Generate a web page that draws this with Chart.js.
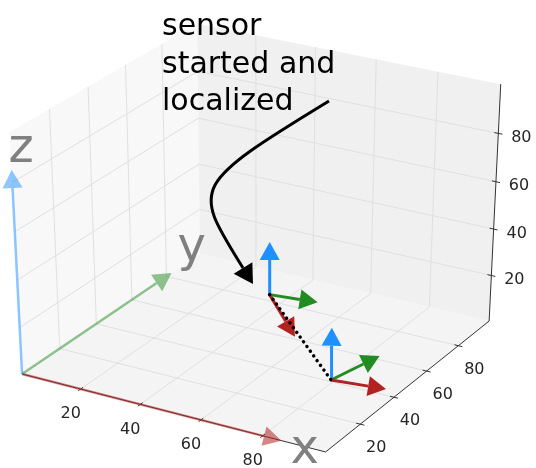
<!DOCTYPE html>
<html>
<head>
<meta charset="utf-8">
<script src="https://cdn.jsdelivr.net/npm/chart.js@4.4.1/dist/chart.umd.min.js"></script>
<style>
  html, body { margin: 0; padding: 0; background: #fff; }
  #wrap { width: 536px; height: 468px; }
</style>
</head>
<body>
<div id="wrap"><canvas id="chart" width="536" height="468"></canvas></div>
<script>
// axis limits and ticks of the 3d box
const xLim = [0, 100];
const yLim = [0, 100];
const zLim = [0, 100];
const xTicks = [20, 40, 60, 80];
const yTicks = [20, 40, 60, 80];
const zTicks = [20, 40, 60, 80];
const gridSteps = [20, 40, 60, 80];

// world frame arrows from the origin (x, y, z)
const frameLabels = ['x', 'y', 'z'];
const frameLength = [86, 83, 85];
const frameLabelPos = [[94, -1, -1], [0, 95, 5], [3.5, 0, 94]];

// sensor poses: position and the three arrows of each pose
const posePos = [[34, 84, 0], [79, 41, 0]];
const poseXArrow = [[21.5, -22.5, 0], [16.5, 2.6, 0]];
const poseYArrow = [[15.3, 2.3, 0], [4.4, 21.2, 0]];
const poseZArrow = [[0, 0, 23.3], [0, 0, 22.4]];

const noteLines = ['sensor', 'started and', 'localized'];

const W = 536, H = 468;

// camera, like the default 3d view (elev 30, azim -60)
const view = { elev: 30, azim: -60, dist: 10, sx: 350.4, sy: 276.3, cx: 259.2, cy: 230.4 };
const el = view.elev * Math.PI / 180, az = view.azim * Math.PI / 180;
const eye = [Math.cos(el) * Math.cos(az), Math.cos(el) * Math.sin(az), Math.sin(el)];
const right = [-Math.sin(az), Math.cos(az), 0];
const up = [-Math.sin(el) * Math.cos(az), -Math.sin(el) * Math.sin(az), Math.cos(el)];

function dot(a, b) { return a[0] * b[0] + a[1] * b[1] + a[2] * b[2]; }

function proj(p) {
    const u = [
        (p[0] - xLim[0]) / (xLim[1] - xLim[0]) - 0.5,
        (p[1] - yLim[0]) / (yLim[1] - yLim[0]) - 0.5,
        (p[2] - zLim[0]) / (zLim[1] - zLim[0]) - 0.5
    ];
    const f = view.dist / (view.dist - dot(u, eye));
    return { x: view.cx + view.sx * dot(u, right) * f, y: view.cy - view.sy * dot(u, up) * f };
}

function add3(a, b) { return [a[0] + b[0], a[1] + b[1], a[2] + b[2]]; }

const datasets = [];

function addLine(pts3d, opts) {
    datasets.push(Object.assign({
        type: 'line',
        data: pts3d.map(proj),
        pointRadius: 0,
        borderWidth: 1,
        fill: false,
        tension: 0
    }, opts));
}

function addPolygon(pts, color) {
    datasets.push({
        type: 'line',
        data: pts.concat([pts[0]]),
        pointRadius: 0,
        borderWidth: 1,
        borderColor: 'transparent',
        backgroundColor: color,
        fill: 'shape',
        tension: 0
    });
}

// arrow drawn like a 2d fancy arrow between two projected 3d points
function addArrow(p0, p1, color, width) {
    const headLen = 18, headHalf = 10;
    const a = proj(p0), b = proj(p1);
    const dx = b.x - a.x, dy = b.y - a.y, L = Math.hypot(dx, dy);
    const ux = dx / L, uy = dy / L;
    const base = { x: b.x - ux * headLen, y: b.y - uy * headLen };
    datasets.push({
        type: 'line', data: [a, base], pointRadius: 0, borderWidth: width,
        borderColor: color, fill: false, tension: 0
    });
    addPolygon([
        b,
        { x: base.x - uy * headHalf, y: base.y + ux * headHalf },
        { x: base.x + uy * headHalf, y: base.y - ux * headHalf }
    ], color);
}

// panes
addPolygon([[0, 0, 0], [0, 100, 0], [0, 100, 100], [0, 0, 100]].map(proj), '#f8f8f8');
addPolygon([[0, 100, 0], [100, 100, 0], [100, 100, 100], [0, 100, 100]].map(proj), '#f0f0f0');
addPolygon([[0, 0, 0], [100, 0, 0], [100, 100, 0], [0, 100, 0]].map(proj), '#f4f4f4');

// grid lines
const gridStyle = { borderColor: '#e0e0e0', borderWidth: 1 };
gridSteps.forEach(g => {
    addLine([[g, 0, 0], [g, 100, 0]], gridStyle);
    addLine([[0, g, 0], [100, g, 0]], gridStyle);
    addLine([[0, g, 0], [0, g, 100]], gridStyle);
    addLine([[0, 0, g], [0, 100, g]], gridStyle);
    addLine([[g, 100, 0], [g, 100, 100]], gridStyle);
    addLine([[0, 100, g], [100, 100, g]], gridStyle);
});

// axis lines and ticks
const axisStyle = { borderColor: '#333', borderWidth: 1 };
addLine([[xLim[0], 0, 0], [xLim[1], 0, 0]], axisStyle);
addLine([[100, yLim[0], 0], [100, yLim[1], 0]], axisStyle);
addLine([[100, 100, zLim[0]], [100, 100, zLim[1]]], axisStyle);
xTicks.forEach(t => addLine([[t, -1.3, 0], [t, 1.3, 0]], axisStyle));
yTicks.forEach(t => addLine([[98.7, t, 0], [101.3, t, 0]], axisStyle));
zTicks.forEach(t => addLine([[98.7, 100, t], [101.3, 100, t]], axisStyle));

// world frame arrows
const frameColors = ['rgba(178,34,34,0.55)', 'rgba(34,139,34,0.5)', 'rgba(30,144,255,0.5)'];
frameLength.forEach((len, i) => {
    const tip = [0, 0, 0];
    tip[i] = len;
    addArrow([0, 0, 0], tip, frameColors[i], 2.5);
});

// sensor poses
posePos.forEach((p, i) => {
    addArrow(p, add3(p, poseZArrow[i]), '#1e90ff', 3);
    addArrow(p, add3(p, poseYArrow[i]), '#228b22', 3);
    addArrow(p, add3(p, poseXArrow[i]), '#b22222', 3);
});

// path between poses
addLine(posePos, {
    borderColor: '#000', borderWidth: 3.5, borderDash: [0.01, 5.8], borderCapStyle: 'round'
});

// annotation geometry (figure pixels)
const note = {
    x: 162, y: 35, lineH: 37.5,
    start: [329, 101], c1: [188, 187], c2: [193, 187], base: [243, 268], tip: [253, 284]
};

const textPlugin = {
    id: 'texts',
    afterDatasetsDraw(chart) {
        const ctx = chart.ctx;
        const sx = chart.scales.x, sy = chart.scales.y;
        const px = q => ({ x: sx.getPixelForValue(q.x), y: sy.getPixelForValue(q.y) });
        ctx.save();

        // tick labels
        ctx.font = '16px "DejaVu Sans"';
        ctx.fillStyle = '#262626';
        ctx.textAlign = 'center';
        ctx.textBaseline = 'middle';
        xTicks.forEach(t => { const q = px(proj([t, 0, 0])); ctx.fillText(String(t), q.x - 10, q.y + 25); });
        yTicks.forEach(t => { const q = px(proj([100, t, 0])); ctx.fillText(String(t), q.x + 16, q.y + 24); });
        zTicks.forEach(t => { const q = px(proj([100, 100, t])); ctx.fillText(String(t), q.x + 23, q.y + 4.5); });

        // axis names
        ctx.font = '48px "DejaVu Sans"';
        ctx.fillStyle = '#808080';
        frameLabels.forEach((s, i) => {
            const q = px(proj(frameLabelPos[i]));
            ctx.fillText(s, q.x, q.y);
        });

        // annotation text
        ctx.font = '30px "DejaVu Sans"';
        ctx.fillStyle = '#000';
        ctx.textAlign = 'left';
        ctx.textBaseline = 'alphabetic';
        noteLines.forEach((s, i) => ctx.fillText(s, note.x, note.y + i * note.lineH));

        // annotation arrow
        const P = a => px({ x: a[0], y: a[1] });
        const s0 = P(note.start), c1 = P(note.c1), c2 = P(note.c2), b = P(note.base), t = P(note.tip);
        ctx.strokeStyle = '#000';
        ctx.lineWidth = 3;
        ctx.beginPath();
        ctx.moveTo(s0.x, s0.y);
        ctx.bezierCurveTo(c1.x, c1.y, c2.x, c2.y, b.x, b.y);
        ctx.stroke();
        const dx = t.x - b.x, dy = t.y - b.y, L = Math.hypot(dx, dy);
        const ux = dx / L, uy = dy / L, hw = 11;
        ctx.fillStyle = '#000';
        ctx.beginPath();
        ctx.moveTo(t.x, t.y);
        ctx.lineTo(b.x - uy * hw, b.y + ux * hw);
        ctx.lineTo(b.x + uy * hw, b.y - ux * hw);
        ctx.closePath();
        ctx.fill();

        ctx.restore();
    }
};

// later datasets go on top
datasets.forEach((d, i) => { d.order = -i; });

window.onload = () => {
    new Chart(document.getElementById('chart'), {
        type: 'scatter',
        data: { datasets: datasets },
        options: {
            responsive: false,
            animation: false,
            devicePixelRatio: 1,
            events: [],
            layout: { padding: 0 },
            scales: {
                x: { type: 'linear', min: 0, max: W, display: false },
                y: { type: 'linear', min: 0, max: H, reverse: true, display: false }
            },
            plugins: {
                legend: { display: false },
                tooltip: { enabled: false }
            }
        },
        plugins: [textPlugin]
    });
};
</script>
</body>
</html>
